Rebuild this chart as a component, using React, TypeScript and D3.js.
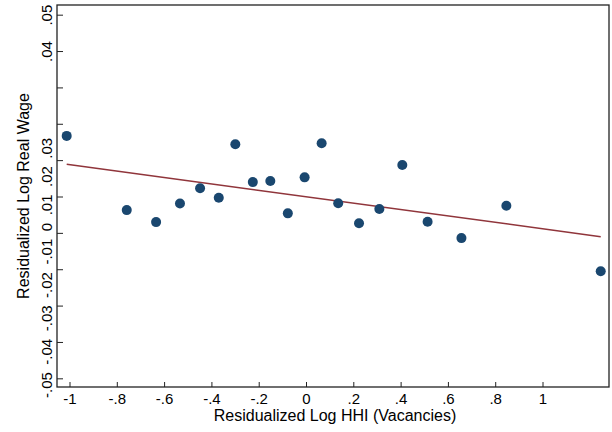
import React from "react";
import * as d3 from "d3";

// Binned scatter: residualized log HHI (vacancies) vs residualized log real wage
const binX = [-1.014, -0.76, -0.636, -0.535, -0.45, -0.371, -0.301, -0.227, -0.153, -0.079, -0.008, 0.064, 0.134, 0.222, 0.308, 0.405, 0.512, 0.655, 0.845, 1.244];
const binY = [0.0168, -0.0036, -0.0069, -0.0018, 0.0024, -0.0002, 0.0145, 0.0041, 0.0044, -0.0045, 0.0054, 0.0148, -0.0017, -0.0072, -0.0033, 0.0088, -0.0068, -0.0113, -0.0024, -0.0204];

// Fitted line endpoints
const fitX = [-1.014, 1.244];
const fitY = [0.009, -0.0109];

const xTicks = [-1, -0.8, -0.6, -0.4, -0.2, 0, 0.2, 0.4, 0.6, 0.8, 1];
const xTickLabels = ["-1", "-.8", "-.6", "-.4", "-.2", "0", ".2", ".4", ".6", ".8", "1"];
const yTicks = [0.05, 0.04, 0.03, 0.02, 0.01, 0, -0.01, -0.02, -0.03, -0.04, -0.05];
const yTickLabels = [".05", ".04", ".03", ".02", ".01", "0", "-.01", "-.02", "-.03", "-.04", "-.05"];

const xTitle = "Residualized Log HHI (Vacancies)";
const yTitle = "Residualized Log Real Wage";

const W = 612;
const H = 432;
const plot = { left: 57, right: 609, top: 5, bottom: 387 };
const FONT = "'Liberation Sans', Arial, Helvetica, sans-serif";
const NAVY = "#1a476f";
const MAROON = "#90353b";

export default function App() {
  const x = d3.scaleLinear().domain([-1.055, 1.279]).range([plot.left, plot.right]);
  const y = d3.scaleLinear().domain([-0.05225, 0.0528]).range([plot.bottom, plot.top]);

  const line = d3
    .line<number>()
    .x((d) => x(d))
    .y((_, i) => y(fitY[i]));

  const points = binX.map((v, i) => ({ x: v, y: binY[i] }));

  // Upper two y labels sit at their ticks; the rest run as one packed column from the bottom
  const topLabels = yTickLabels.slice(0, 2);
  const packed = yTickLabels.slice(2).reverse();
  const gap = 7.5;

  return (
    <svg
      width={W}
      height={H}
      style={{ position: "absolute", left: 0, top: 0, background: "#fff" }}
      fontFamily={FONT}
    >
      <rect x={0} y={0} width={W} height={H} fill="#fff" />

      {/* fit line */}
      <path d={line(fitX) || ""} fill="none" stroke={MAROON} strokeWidth={1.5} />

      {/* bins */}
      {points.map((p, i) => (
        <circle key={i} cx={x(p.x)} cy={y(p.y)} r={5} fill={NAVY} />
      ))}

      {/* frame */}
      <rect
        x={plot.left}
        y={plot.top}
        width={plot.right - plot.left}
        height={plot.bottom - plot.top}
        fill="none"
        stroke="#222"
        strokeWidth={1.3}
      />

      {/* x ticks */}
      {xTicks.map((t, i) => (
        <g key={i}>
          <line x1={x(t)} x2={x(t)} y1={plot.bottom} y2={plot.bottom - 5} stroke="#222" strokeWidth={1} />
          <text x={x(t)} y={404} textAnchor="middle" fontSize={15} fill="#000">
            {xTickLabels[i]}
          </text>
        </g>
      ))}

      {/* y ticks */}
      {yTicks.map((t, i) => (
        <line key={i} x1={plot.left} x2={plot.left + 6} y1={y(t)} y2={y(t)} stroke="#222" strokeWidth={1} />
      ))}
      {topLabels.map((l, i) => (
        <text
          key={i}
          transform={`translate(52, ${y(yTicks[i])}) rotate(-90)`}
          textAnchor="middle"
          fontSize={15}
          fill="#000"
        >
          {l}
        </text>
      ))}
      <text transform={`translate(52, 398) rotate(-90)`} textAnchor="start" fontSize={15} fill="#000">
        {packed.map((l, i) => (
          <tspan key={i} dx={i === 0 ? 0 : gap}>
            {l}
          </tspan>
        ))}
      </text>

      {/* axis titles */}
      <text x={(plot.left + plot.right) / 2 + 2} y={421} textAnchor="middle" fontSize={16} fill="#000">
        {xTitle}
      </text>
      <text
        transform={`translate(29, ${(plot.top + plot.bottom) / 2}) rotate(-90)`}
        textAnchor="middle"
        fontSize={16}
        fill="#000"
      >
        {yTitle}
      </text>
    </svg>
  );
}
